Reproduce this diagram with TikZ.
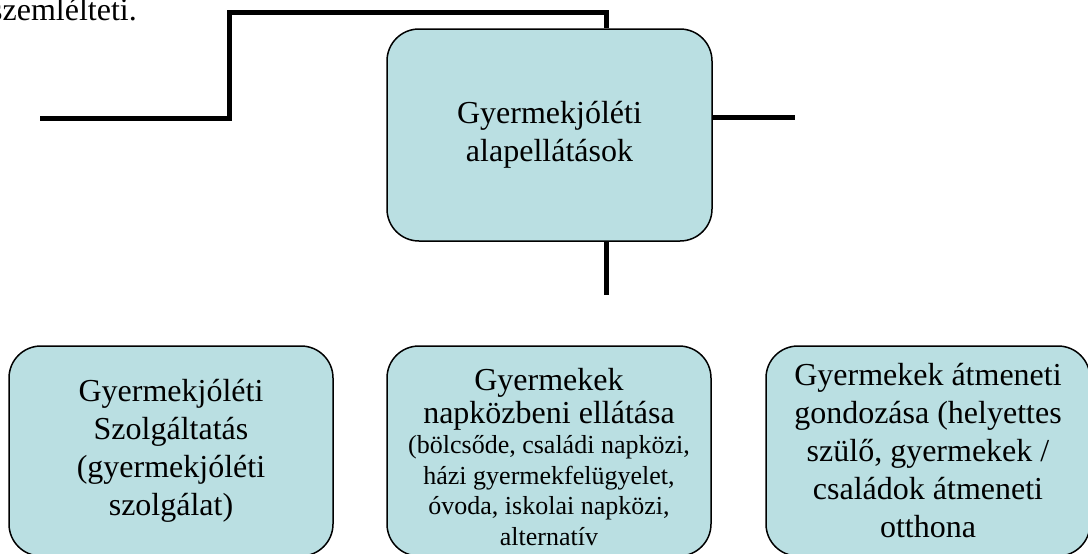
\documentclass[tikz,border=0pt]{standalone}
\usepackage{fontspec}
\setmainfont{Liberation Serif}
\definecolor{boxfill}{RGB}{186,223,226}
\tikzset{
  box/.style={draw=black, line width=1.5pt, fill=boxfill, rounded corners=32pt,
    minimum width=324pt, minimum height=210pt, inner sep=0pt, align=center,
    font=\fontsize{32}{38}\selectfont},
  conn/.style={line width=5pt, line cap=butt},
  bigtxt/.style={font=\fontsize{32}{38}\selectfont, inner sep=0pt, anchor=base},
  smalltxt/.style={font=\fontsize{26}{30}\selectfont, inner sep=0pt, anchor=base},
}
\begin{document}
\begin{tikzpicture}[x=1pt,y=-1pt]
\path[use as bounding box, clip] (0,0) rectangle (1088,554);
\node[bigtxt, anchor=base east] (intro) at (137,20) {szemlélteti.};
% central box
\node[box, minimum width=325pt, minimum height=212pt] (top) at (549.5,135)
  {Gyermekjóléti\\alapellátások};
% bottom boxes
\node[box] (left) at (171,451)
  {Gyermekjóléti\\Szolgáltatás\\(gyermekjóléti\\szolgálat)};
\node[box] (mid) at (549,451) {};
\node[box] (right) at (928,451)
  {Gyermekek átmeneti\\gondozása (helyettes\\szülő, gyermekek /\\családok átmeneti\\otthona};
% middle box text
\node[bigtxt] (m1) at (549,390) {Gyermekek};
\node[bigtxt] (m2) at (549,423) {napközbeni ellátása};
\node[smalltxt] (m3) at (549,453) {(bölcsőde, családi napközi,};
\node[smalltxt] (m4) at (549,484) {házi gyermekfelügyelet,};
\node[smalltxt] (m5) at (549,514) {óvoda, iskolai napközi,};
\node[smalltxt] (m6) at (549,545) {alternatív};
% connectors
\coordinate (l0) at (40,118);
\coordinate (l1) at (229,12.5);
\coordinate (v) at (606,12.5);
\coordinate (r) at (795,117);
\coordinate (b) at (606,295);
\draw[conn] (l0) -| (l1) -- (v) -- (v |- top.north);
\draw[conn] (r -| top.east) -- (r);
\draw[conn] (b |- top.south) -- (b);
\end{tikzpicture}
\end{document}
